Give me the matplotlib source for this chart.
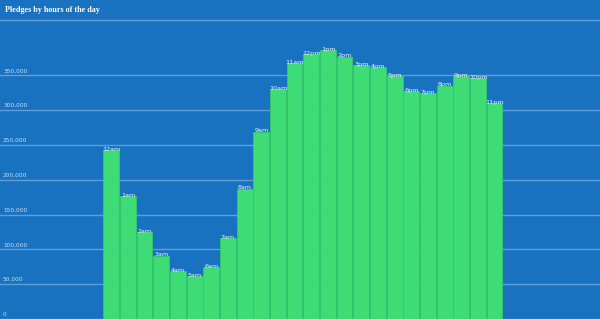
import matplotlib
matplotlib.use("Agg")
import matplotlib.pyplot as plt

hours = ["12am", "1am", "2am", "3am", "4am", "5am", "6am", "7am", "8am", "9am",
         "10am", "11am", "12pm", "1pm", "2pm", "3pm", "4pm", "5pm", "6pm", "7pm",
         "8pm", "9pm", "10pm", "11pm"]
pledges = [242800, 176700, 124600, 91000, 69000, 61800, 74700, 116400, 187200, 269100,
           330000, 367400, 380700, 386500, 376900, 365000, 361600, 348700, 327200, 324300,
           335200, 348700, 346300, 309900]
yticks = [0, 50000, 100000, 150000, 200000, 250000, 300000, 350000]
title = "Pledges by hours of the day"

BG = "#1872c0"
GRID = "#5e9fdc"

fig = plt.figure(figsize=(6, 3.19), dpi=100, facecolor=BG)
ax = fig.add_axes([0, 0, 1, (319 - 20) / 319])
ax.set_facecolor(BG)

x = list(range(len(hours)))
ax.bar(x, pledges, width=0.94, color="#3ddc74", edgecolor="#35c86a", linewidth=0.6, zorder=3)

ax.set_xlim(-6.68, 29.32)
ax.set_ylim(0, 429600)

for t in yticks:
    ax.axhline(t, color=GRID, linewidth=1.0, zorder=1)
    ax.text(-6.5, t + 3000, f"{t:,}", color="#c8ddf2", fontsize=4.2,
            ha="left", va="bottom", zorder=4)

for xi, v, lab in zip(x, pledges, hours):
    ax.text(xi, v - 2500, lab, color="#eef5ff", fontsize=4.6, ha="center",
            va="bottom", zorder=4)

for s in ["left", "right", "bottom"]:
    ax.spines[s].set_visible(False)
ax.spines["top"].set_color(GRID)
ax.spines["top"].set_linewidth(1.0)
ax.set_xticks([])
ax.set_yticks([])

fig.text(5 / 600, 1 - 10 / 319, title, color="white", fontsize=5.9,
         fontweight="bold", family="Liberation Serif", ha="left", va="center")

fig.savefig("out.png", dpi=100, facecolor=BG)
